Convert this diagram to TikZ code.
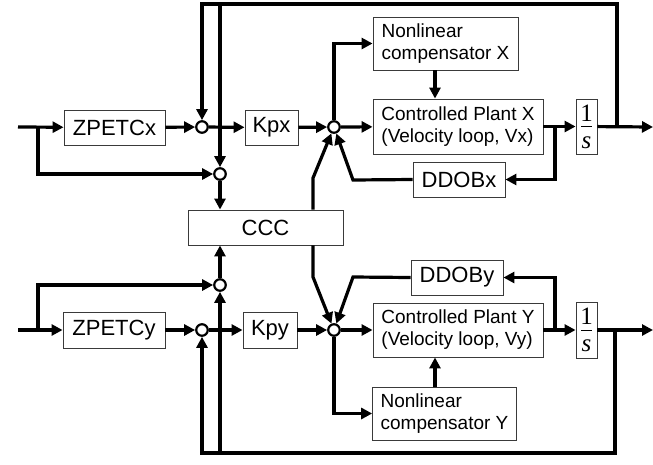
\documentclass[tikz,border=0pt]{standalone}
\usepackage{fontspec}
\setmainfont{Liberation Sans}
\newfontfamily\tmsfont{Liberation Serif}
\usetikzlibrary{arrows.meta,calc}
\definecolor{ink}{HTML}{000000}
\definecolor{rim}{HTML}{3A3A3A}
\tikzset{
  blk/.style   ={draw=rim,line width=0.9pt,inner sep=0pt,align=center,
                 minimum height=35pt,font=\fontsize{22}{24}\selectfont},
  plant/.style ={draw=rim,line width=0.9pt,inner xsep=8pt,inner ysep=0pt,align=left,
                 minimum height=54pt,font=\fontsize{19}{22}\selectfont},
  intbox/.style={draw=rim,line width=0.9pt,inner sep=0pt,align=center,
                 minimum width=21pt,minimum height=55pt,font=\fontsize{25}{12}\selectfont\tmsfont},
  sum/.style   ={circle,draw=ink,line width=2.2pt,fill=white,minimum size=11.5pt,inner sep=0pt},
  flow/.style  ={-{Triangle[length=11pt,width=11pt]},line width=3.2pt,draw=ink}
}

\begin{document}
\begin{tikzpicture}[x=1pt,y=-1pt]
    \useasboundingbox (0,0) rectangle (653,464);
    % X axis
    \node[blk,minimum width=101pt] (zpx) at (114.5,127.5) {ZPETCx};
    \node[sum] (s1x) at (202,127) {};
    \node[blk,minimum width=53pt] (kpx) at (271.5,127.5) {Kpx};
    \node[sum] (s3x) at (334,127) {};
    \node[plant,minimum width=145pt,minimum height=53pt] (nlx) at (445.5,43.5) {Nonlinear\\compensator X};
    \node[plant,minimum width=170pt,minimum height=55pt] (plx) at (458,126.5) {Controlled Plant X\\(Velocity loop, Vx)};
    \node[intbox] (intx) at (586.5,126.5) {1\\[-6pt]\rule{11pt}{0.8pt}\\[9pt]\itshape s};
    \node[blk,minimum width=92pt] (ddx) at (459,179.5) {DDOBx};
    \node[sum] (s2x) at (220,174) {};
    % coupling block
    \node[blk,minimum width=155pt] (ccc) at (265.5,227.5) {CCC};
    % Y axis
    \node[sum] (s2y) at (220,285) {};
    \node[blk,minimum width=102pt,minimum height=36pt] (zpy) at (114,330) {ZPETCy};
    \node[sum] (s1y) at (202,330) {};
    \node[blk,minimum width=54pt,minimum height=36pt] (kpy) at (270,330) {Kpy};
    \node[sum] (s3y) at (334,330) {};
    \node[blk,minimum width=92pt] (ddy) at (457,277.5) {DDOBy};
    \node[plant,minimum width=170pt] (ply) at (458,330) {Controlled Plant Y\\(Velocity loop, Vy)};
    \node[intbox,minimum height=56pt] (inty) at (586.5,330) {1\\[-6pt]\rule{11pt}{0.8pt}\\[9pt]\itshape s};
    \node[plant,minimum width=143pt,minimum height=53pt] (nly) at (444.5,413.5) {Nonlinear\\compensator Y};

    \coordinate (inx) at (18,127);
    \coordinate (bx) at (38,127);
    \coordinate (obx) at (555,127);
    \coordinate (fbx) at (617,127);
    \coordinate (tpx) at (617,4);
    \coordinate (outx) at (653,127);
    \coordinate (cx) at (313,178);
    \coordinate (kx) at (353,180);
    \coordinate (iny) at (18,330);
    \coordinate (by) at (38,330);
    \coordinate (oby) at (555,330);
    \coordinate (fby) at (615,330);
    \coordinate (bty) at (615,453);
    \coordinate (outy) at (653,330);
    \coordinate (cy) at (313,277);
    \coordinate (ky) at (353,277);

    % X forward path
    \draw[flow] (inx) -- (zpx);
    \draw[flow] (bx) |- (s2x);
    \draw[flow] (zpx) -- (s1x);
    \draw[flow] (s1x) -- (kpx);
    \draw[flow] (kpx) -- (s3x);
    \draw[flow] (s3x) -- (plx);
    \draw[flow] (s3x) |- (nlx.west);
    \draw[flow] ([xshift=-10.5pt]nlx.south) -- ([xshift=-10.5pt]nlx.south |- plx.north);
    \draw[flow] (plx) -- (intx);
    \draw[flow] (obx) |- (ddx);
    \draw[flow] (ddx.west) -- (kx) -- (s3x);
    \draw[flow] (intx) -- (outx);
    \draw[flow] (fbx) -- (tpx) -| (s1x);
    \draw[flow] (s2x |- tpx) -- (s2x);
    \draw[flow] (s2x) -- (s2x |- ccc.north);
    \draw[flow] (ccc.north -| cx) -- (cx) -- (s3x);
    % Y forward path
    \draw[flow] (iny) -- (zpy);
    \draw[flow] (by) |- (s2y);
    \draw[flow] (zpy) -- (s1y);
    \draw[flow] (s1y) -- (kpy);
    \draw[flow] (kpy) -- (s3y);
    \draw[flow] (s3y) -- (ply);
    \draw[flow] (s3y) |- (nly.west);
    \draw[flow] ([xshift=-9.5pt]nly.north) -- ([xshift=-9.5pt]nly.north |- ply.south);
    \draw[flow] (ply) -- (inty);
    \draw[flow] (oby) |- (ddy);
    \draw[flow] (ddy.west) -- (ky) -- (s3y);
    \draw[flow] (inty) -- (outy);
    \draw[flow] (fby) -- (bty) -| (s1y);
    \draw[flow] (s2y |- bty) -- (s2y);
    \draw[flow] (s2y) -- (s2y |- ccc.south);
    \draw[flow] (ccc.south -| cy) -- (cy) -- (s3y);
\end{tikzpicture}
\end{document}
